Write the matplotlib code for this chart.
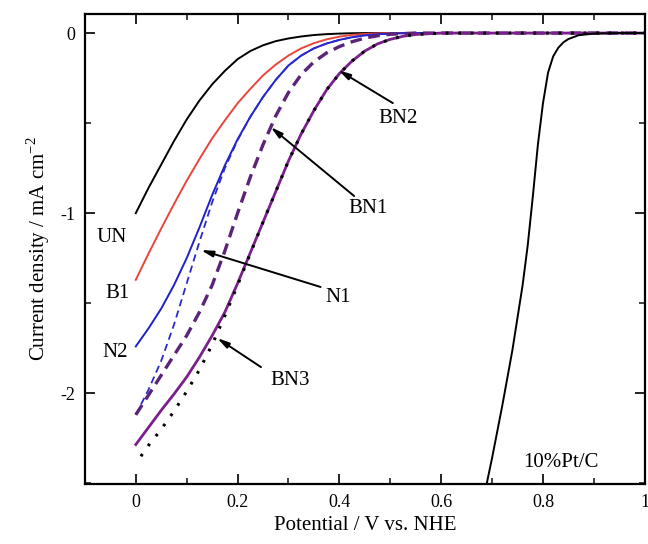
import matplotlib

matplotlib.use("agg")
import matplotlib.pyplot as plt
from matplotlib.ticker import MultipleLocator

plt.rcParams["font.family"] = ["Liberation Serif", "DejaVu Serif"]
plt.rcParams["mathtext.fontset"] = "custom"
plt.rcParams["mathtext.rm"] = "Liberation Serif"
plt.rcParams["axes.unicode_minus"] = False

# potential grid (V vs. NHE) shared by the catalyst sweeps
V = [0, 0.025, 0.05, 0.075, 0.1, 0.125, 0.15, 0.175, 0.2, 0.225, 0.25, 0.275, 0.3,
     0.325, 0.35, 0.375, 0.4, 0.425, 0.45, 0.475, 0.5, 0.525, 0.55, 0.6, 0.7, 0.8, 0.9, 1.0]

UN = [-1.00, -0.86, -0.73, -0.60, -0.48, -0.375, -0.285, -0.21, -0.145, -0.10, -0.068, -0.045, -0.03,
      -0.019, -0.011, -0.006, -0.003, -0.001, 0, 0, 0, 0, 0, 0, 0, 0, 0, 0]
B1 = [-1.37, -1.225, -1.085, -0.95, -0.82, -0.70, -0.585, -0.485, -0.39, -0.31, -0.235, -0.175, -0.125,
      -0.085, -0.056, -0.035, -0.02, -0.01, -0.005, -0.002, 0, 0, 0, 0, 0, 0, 0, 0]
N2 = [-1.74, -1.64, -1.53, -1.40, -1.25, -1.08, -0.90, -0.735, -0.59, -0.465, -0.355, -0.26, -0.18,
      -0.125, -0.085, -0.058, -0.038, -0.023, -0.013, -0.007, -0.003, -0.001, 0, 0, 0, 0, 0, 0]
N1 = [-2.12, -1.98, -1.82, -1.62, -1.39, -1.16, -0.94, -0.75, -0.595, -0.465, -0.355, -0.26, -0.18,
      -0.125, -0.085, -0.058, -0.038, -0.023, -0.013, -0.007, -0.003, -0.001, 0, 0, 0, 0, 0, 0]
BN1 = [-2.12, -2.01, -1.90, -1.79, -1.68, -1.55, -1.40, -1.21, -1.00, -0.80, -0.62, -0.46, -0.33,
       -0.23, -0.16, -0.11, -0.075, -0.048, -0.028, -0.015, -0.007, -0.003, 0, 0, 0, 0, 0, 0]
BN2 = [-2.285, -2.19, -2.095, -2.005, -1.91, -1.80, -1.68, -1.55, -1.39, -1.22, -1.05, -0.88, -0.71,
       -0.56, -0.43, -0.315, -0.225, -0.155, -0.10, -0.06, -0.035, -0.018, -0.008, 0, 0, 0, 0, 0]

V_BN3 = [0.01, 0.025, 0.05, 0.075, 0.1, 0.125, 0.15, 0.175, 0.2, 0.225, 0.25, 0.275, 0.3,
         0.325, 0.35, 0.375, 0.4, 0.425, 0.45, 0.475, 0.5, 0.525, 0.55, 0.6, 0.7, 0.8, 0.9, 1.0]
BN3 = [-2.35, -2.29, -2.20, -2.10, -1.99, -1.87, -1.73, -1.57, -1.40, -1.225, -1.05, -0.88, -0.71,
       -0.56, -0.43, -0.315, -0.225, -0.155, -0.10, -0.06, -0.035, -0.018, -0.008, 0, 0, 0, 0, 0]

V_PT = [0.68, 0.70, 0.72, 0.74, 0.76, 0.77, 0.78, 0.79, 0.80, 0.81, 0.82, 0.83, 0.84, 0.85,
        0.87, 0.90, 0.95, 1.0]
PT = [-2.63, -2.36, -2.07, -1.76, -1.40, -1.18, -0.91, -0.62, -0.39, -0.22, -0.13, -0.082, -0.052,
      -0.033, -0.012, -0.003, 0, 0]

fig = plt.figure(figsize=(6.48, 5.44), dpi=100)
ax = fig.add_axes([0.131, 0.110, 0.864, 0.864])

ax.plot(V, UN, color="black", lw=1.4)
ax.plot(V, B1, color="#e8463a", lw=1.4)
ax.plot(V, N2, color="#2020c8", lw=1.4)
ax.plot(V, N1, color="#2a2ad0", lw=1.3, ls=(0, (4, 2.5)))
ax.plot(V, BN1, color="#5a2478", lw=2.4, ls=(0, (3.5, 2)))
ax.plot(V, BN2, color="#7a1f8c", lw=2.0)
ax.plot(V_BN3, BN3, color="black", lw=2.2, ls=(0, (0.9, 3.2)))
ax.plot(V_PT, PT, color="black", lw=1.4)

ax.set_xlim(-0.1, 1.0)
ax.set_ylim(-2.505, 0.105)
ax.xaxis.set_minor_locator(MultipleLocator(0.1))
ax.yaxis.set_minor_locator(MultipleLocator(0.5))
ax.set_xticks([0, 0.2, 0.4, 0.6, 0.8, 1.0])
ax.set_xticklabels(["0", "0.2", "0.4", "0.6", "0.8", "1"])
ax.set_yticks([0, -1, -2])
ax.set_yticklabels(["0", "-1", "-2"])
ax.tick_params(which="both", direction="in", top=True, right=True, labelsize=13, color="#222222")
ax.tick_params(which="major", length=7, width=1.4, pad=7)
ax.tick_params(which="minor", length=4, width=1.2)
for s in ax.spines.values():
    s.set_linewidth(1.6)

ax.set_xlabel("Potential / V vs. NHE", fontsize=15, labelpad=4)
ax.set_ylabel("Current density / mA cm$^{-2}$", fontsize=15, labelpad=6)

for label, (x, y) in {"UN": (-0.047, -1.133), "B1": (-0.035, -1.444),
                      "N2": (-0.041, -1.772), "10%Pt/C": (0.836, -2.383)}.items():
    ax.text(x, y, label, fontsize=15, ha="center", va="center")

arrows = {
    "N1": ((0.398, -1.467), (0.363, -1.41), (0.128, -1.205)),
    "BN3": ((0.304, -1.93), (0.246, -1.855), (0.160, -1.694)),
    "BN1": ((0.456, -0.972), (0.429, -0.905), (0.265, -0.522)),
    "BN2": ((0.515, -0.472), (0.505, -0.389), (0.398, -0.206)),
}
for label, (txt, tail, head) in arrows.items():
    ax.text(*txt, label, fontsize=15, ha="center", va="center")
    ax.annotate("", xy=head, xytext=tail,
                arrowprops=dict(arrowstyle="-|>,head_length=0.7,head_width=0.18",
                                color="black", lw=1.4, shrinkA=0, shrinkB=0))

fig.savefig("out.png", dpi=100)
